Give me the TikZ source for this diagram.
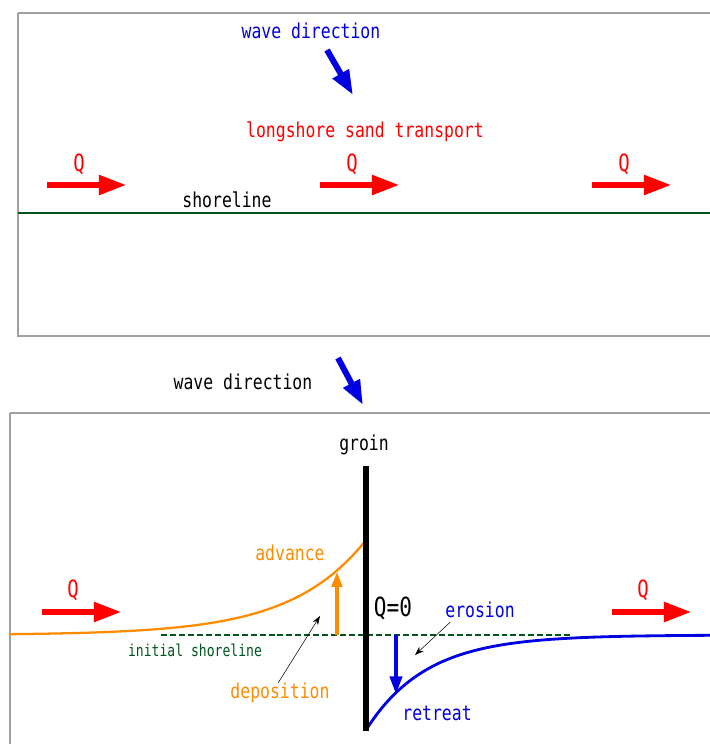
\documentclass[tikz,border=0pt]{standalone}
\usepackage{fontspec}
\setmainfont[FakeStretch=0.8]{DejaVu Sans Mono}
\usetikzlibrary{arrows.meta, positioning, calc}
\definecolor{sandRed}{RGB}{255,0,0}
\definecolor{waveBlue}{RGB}{0,0,225}
\definecolor{shoreGreen}{RGB}{0,85,30}
\definecolor{depoOrange}{RGB}{255,140,0}
\definecolor{frameGray}{RGB}{160,160,160}

\begin{document}
\begin{tikzpicture}[x=0.02cm, y=-0.02cm,
  lbl/.style={inner sep=0pt, font=\fontsize{11.7}{14}\selectfont},
  qlbl/.style={inner sep=0pt, text=sandRed, font=\fontsize{13.5}{15}\selectfont},
  qarrow/.style={draw=sandRed, line width=3.8pt, -{Triangle[length=16pt,width=10.5pt]}},
  wavearrow/.style={draw=waveBlue, line width=3.4pt, -{Triangle[length=14pt,width=10pt]}},
  panel/.style={draw=frameGray, line width=0.7pt},
  pointer/.style={draw=black, line width=0.3pt, -{Stealth[length=5pt,width=3.5pt]}}]

  \useasboundingbox (0,0) rectangle (710,744);

  % upper panel: straight shoreline
  \draw[panel] (18,13) -- (715,13) (18,13) -- (18,336) -- (715,336);
  \node[lbl, text=waveBlue] (waveTop) at (311,31) {wave direction};
  \coordinate (waveTopTail) at (327,50);
  \coordinate (waveTopTip) at (353,95);
  \draw[wavearrow] (waveTopTail) -- (waveTopTip);
  \node[lbl, text=sandRed] (transport) at (365,132) {longshore sand transport};

  \foreach \qx/\qn in {47/a, 320/b, 592/c} {
    \coordinate (qtail\qn) at (\qx,185);
    \coordinate (qtip\qn) at (\qx+80,185);
    \draw[qarrow] (qtail\qn) -- (qtip\qn);
    \node[qlbl] (q\qn) at (\qx+32,164) {Q};
  }
  \node[lbl] (shoreLbl) at (227,200) {shoreline};
  \draw[shoreGreen, line width=1.1pt] (18,213) -- (715,213);

  % lower panel: groin
  \node[lbl] (waveBot) at (243,382) {wave direction};
  \coordinate (waveBotTail) at (338,358);
  \coordinate (waveBotTip) at (363,405);
  \draw[wavearrow] (waveBotTail) -- (waveBotTip);
  \draw[panel] (10,413) -- (715,413) (10,413) -- (10,750);

  % shorelines
  \draw[depoOrange, line width=1.3pt] plot[domain=10:366, samples=90]
    (\x, {635-95*exp((\x-366)/75)});
  \draw[waveBlue, line width=1.6pt] plot[domain=366:715, samples=90]
    (\x, {635+95*exp(-(\x-366)/60)});
  \draw[shoreGreen, line width=1.1pt, dash pattern=on 3.4pt off 1.7pt] (161,635) -- (570,635);

  \node[lbl] (groinLbl) at (364,445) {groin};
  \coordinate (groinTop) at (366,466);
  \coordinate (groinEnd) at (366,731);
  \draw[black, line width=2.9pt] (groinTop) -- (groinEnd);

  \coordinate (advBase) at (337,635);
  \coordinate (advTip) at (337,572);
  \draw[draw=depoOrange, line width=1.8pt, -{Triangle[length=8.5pt,width=6pt]}] (advBase) -- (advTip);
  \coordinate (retBase) at (396,635);
  \coordinate (retTip) at (396,694);
  \draw[draw=waveBlue, line width=1.8pt, -{Triangle[length=10pt,width=7pt]}] (retBase) -- (retTip);

  \node[lbl, text=depoOrange] (advance) at (290,553) {advance};
  \node[lbl, text=depoOrange] (depo) at (280,693) {deposition};
  \node[lbl, text=shoreGreen, font=\fontsize{9.3}{11}\selectfont] (initial) at (195,650) {initial shoreline};
  \node[inner sep=0pt, font=\fontsize{15}{17}\selectfont] (qZero) at (393,608) {Q=0};
  \node[lbl, text=waveBlue] (erosion) at (480,610) {erosion};
  \node[lbl, text=waveBlue] (retreat) at (437,713) {retreat};

  \coordinate (depoTip) at (320,616);
  \draw[pointer] ([xshift=-1pt]depo.north) -- (depoTip);
  \coordinate (erosTip) at (415,655);
  \draw[pointer] ($(erosion.south west)+(5,4)$) -- (erosTip);

  \foreach \qx/\qn in {42/d, 612/e} {
    \coordinate (qtail\qn) at (\qx,612);
    \coordinate (qtip\qn) at (\qx+80,612);
    \draw[qarrow] (qtail\qn) -- (qtip\qn);
    \node[qlbl] (q\qn) at (\qx+31,590) {Q};
  }
\end{tikzpicture}
\end{document}
